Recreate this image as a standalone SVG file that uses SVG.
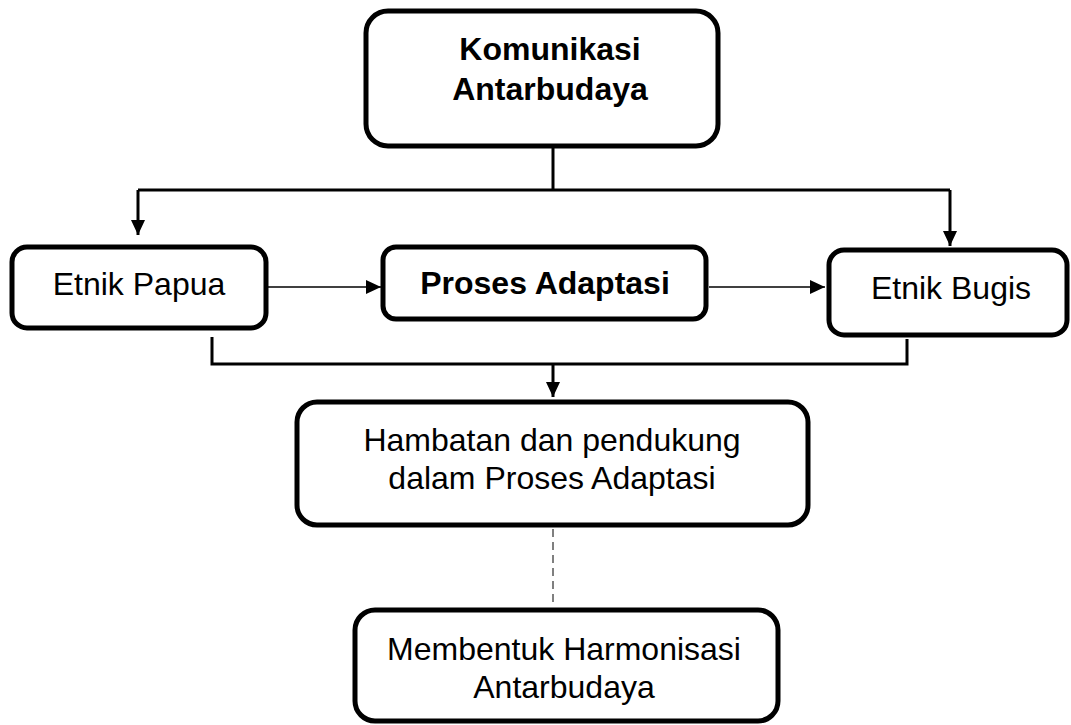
<svg xmlns="http://www.w3.org/2000/svg" width="1071" height="725" viewBox="0 0 1071 725">
<style>
.box{fill:#fff;stroke:#000;stroke-width:5}
.t{font-family:"Liberation Sans",Arial,sans-serif;font-size:32px;fill:#000;text-anchor:middle}
.b{font-weight:bold;font-size:32px}
.thick{fill:none;stroke:#000;stroke-width:3}
.thin{fill:none;stroke:#000;stroke-width:1.5}
.dash{fill:none;stroke:#000;stroke-width:1;stroke-dasharray:8,5}
</style>
<defs>
<marker id="ah" markerUnits="userSpaceOnUse" markerWidth="16" markerHeight="16" refX="15" refY="8" orient="auto">
<path d="M0,1 L15,8 L0,15 Z" fill="#000"/>
</marker>
</defs>
<g id="connectors">
<path class="thick" d="M553,148 V190"/>
<path class="thick" d="M138,190 H950"/>
<path class="thick" d="M138,190 V235" marker-end="url(#ah)"/>
<path class="thick" d="M950,190 V246" marker-end="url(#ah)"/>
<path class="thin" d="M268,287 H381" marker-end="url(#ah)"/>
<path class="thin" d="M709,287 H825" marker-end="url(#ah)"/>
<path class="thick" d="M212,337 V364 H907 V339"/>
<path class="thick" d="M553,364 V397" marker-end="url(#ah)"/>
<path class="dash" d="M553,529 V607"/>
</g>
<g id="komunikasi">
<rect class="box" x="366" y="11" width="352" height="135" rx="22"/>
<text class="t b" x="550" y="60">Komunikasi</text>
<text class="t b" x="550" y="100">Antarbudaya</text>
</g>
<g id="etnik-papua">
<rect class="box" x="12" y="247" width="254" height="81" rx="15"/>
<text class="t" x="139" y="295">Etnik Papua</text>
</g>
<g id="proses-adaptasi">
<rect class="box" x="383" y="247" width="323" height="72" rx="13"/>
<text class="t b" x="545" y="294">Proses Adaptasi</text>
</g>
<g id="etnik-bugis">
<rect class="box" x="829" y="250" width="238" height="85" rx="15"/>
<text class="t" x="951" y="299">Etnik Bugis</text>
</g>
<g id="hambatan">
<rect class="box" x="297" y="402" width="511" height="123" rx="20"/>
<text class="t" x="552" y="451">Hambatan dan pendukung</text>
<text class="t" x="552" y="489">dalam Proses Adaptasi</text>
</g>
<g id="membentuk">
<rect class="box" x="355" y="610" width="423" height="111" rx="20"/>
<text class="t" x="564" y="660">Membentuk Harmonisasi</text>
<text class="t" x="564" y="698">Antarbudaya</text>
</g>
</svg>
